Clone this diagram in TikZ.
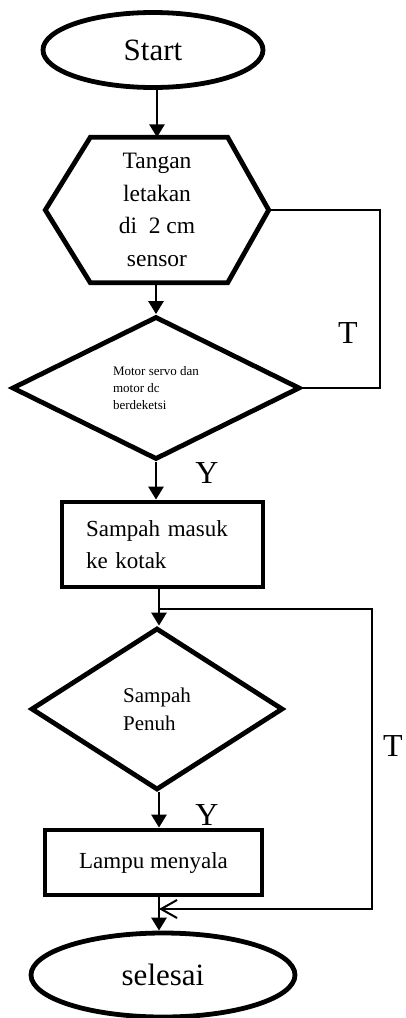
\documentclass[tikz,border=0pt]{standalone}
\usepackage{fontspec}
\setmainfont{Liberation Serif}
\usetikzlibrary{shapes.geometric,arrows.meta,calc}
\tikzset{
  shapeline/.style={draw=black,line width=4.8pt,line join=miter},
  conn/.style={draw=black,line width=2.8pt,-{Triangle[length=13pt,width=15pt]}},
  loopline/.style={draw=black,line width=2.6pt},
  thinloop/.style={draw=black,line width=2pt},
  bigtxt/.style={font=\fontsize{31}{36}\selectfont},
  midtxt/.style={font=\fontsize{23}{32}\selectfont},
  lbl/.style={font=\fontsize{32}{36}\selectfont,inner sep=0pt},
}
\begin{document}
\begin{tikzpicture}[x=1pt,y=-1pt]
\useasboundingbox (0,0) rectangle (405,1018);
% nodes
\node[shapeline,ellipse,minimum width=220pt,minimum height=75pt,inner sep=0pt,bigtxt] (start) at (153,50) {Start};
\node[minimum width=223pt,minimum height=145pt,inner sep=0pt,align=center,font=\fontsize{23.5}{32.5}\selectfont] (hex) at (157,210) {Tangan\\letakan\\di~ 2 cm\\sensor};
\draw[shapeline] (hex.west) -- ($(hex.north west)+(45,0)$) -- ($(hex.north east)+(-41,0)$) -- (hex.east) -- ($(hex.south east)+(-41,0)$) -- ($(hex.south west)+(45,0)$) -- cycle;
\node[shapeline,diamond,minimum width=288pt,minimum height=143pt,inner sep=0pt,align=left,font=\fontsize{13}{17}\selectfont] (d1) at (156,388) {Motor servo dan\\motor dc\\berdeketsi};
\node[shapeline,rectangle,minimum width=201pt,minimum height=85pt,inner xsep=24pt,text width=153pt,align=left,midtxt] (r1) at (162.5,544.5) {Sampah masuk\\ke kotak};
\node[shapeline,diamond,minimum width=252pt,minimum height=162pt,inner sep=0pt,align=left,font=\fontsize{21}{28}\selectfont] (d2) at (157,709) {Sampah\\Penuh};
\node[shapeline,rectangle,minimum width=217pt,minimum height=65pt,inner sep=0pt,midtxt] (r2) at (153.5,862.5) {Lampu menyala};
\node[shapeline,ellipse,minimum width=264pt,minimum height=84pt,inner sep=0pt,bigtxt] (finish) at (163,975) {selesai};
% labels
\node[lbl] (t1) at (348,333) {T};
\node[lbl] (y1) at (207,473) {Y};
\node[lbl] (y2) at (207,815) {Y};
\node[lbl] (t2) at (393,746) {T};
% helper coordinates
\coordinate (j1) at (159,609);
\coordinate (j2) at (159,909);
\coordinate (c1) at (380,210);
\coordinate (c2) at (372,609);
% connectors
\draw[conn] (hex.north |- start.south) -- (hex.north);
\draw[conn] (d1.north |- hex.south) -- (d1.north);
\draw[loopline] (hex.east) -- (hex.east -| c1) |- (d1.east);
\draw[conn] (d1.south) -- (d1.south |- r1.north);
\draw[conn] (j1 |- r1.south) -- (j1 |- d2.north);
\draw[thinloop] (j1) -- (c2) |- (j2);
\draw[thinloop,-{Straight Barb[length=16pt,width=18pt,line width=2pt]}] (c2 |- j2) -- (j2);
\draw[conn] (j2 |- d2.south) -- (j2 |- r2.north);
\draw[conn] (j2 |- r2.south) -- (j2 |- finish.north);
\end{tikzpicture}
\end{document}
